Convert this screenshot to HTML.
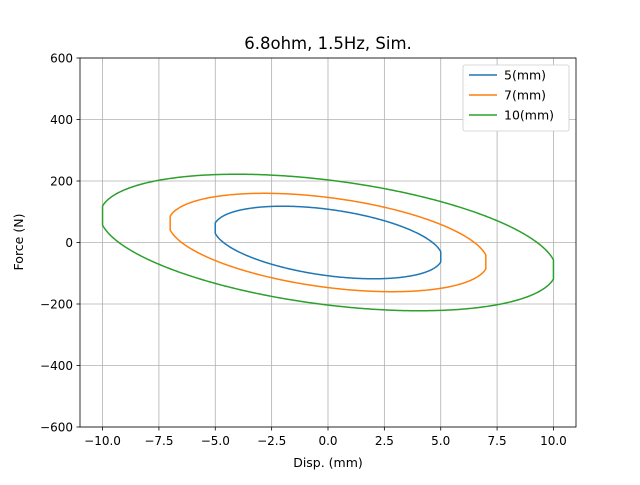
<!DOCTYPE html>
<html><head><meta charset="utf-8"><style>
body{margin:0;background:#fff;font-family:"Liberation Sans","DejaVu Sans",sans-serif}
svg text{font-family:"DejaVu Sans","Liberation Sans",sans-serif}
</style></head><body>
<svg id="c" width="640" height="480" viewBox="0 0 640 480"></svg>
<script>
const amplitudes=[5,7,10];
const peakForces=[118,160,222];
const labels=['5(mm)','7(mm)','10(mm)'];
const colors=['#1f77b4','#ff7f0e','#2ca02c'];
const xTicks=[-10,-7.5,-5,-2.5,0,2.5,5,7.5,10];
const xTickLabels=['\u221210.0','\u22127.5','\u22125.0','\u22122.5','0.0','2.5','5.0','7.5','10.0'];
const yTicks=[-600,-400,-200,0,200,400,600];
const yTickLabels=['\u2212600','\u2212400','\u2212200','0','200','400','600'];
const phase=Math.asin(0.4);
const clipK=1.012;
const L=80,R=576,T=58,B=427;
const X=v=>L+(v+11)/22*(R-L);
const Y=v=>B-(v+600)/1200*(B-T);
const svg=document.getElementById('c');
const NS='http://www.w3.org/2000/svg';
function mk(tag,attrs,parent){const e=document.createElementNS(NS,tag);for(const k in attrs)e.setAttribute(k,attrs[k]);(parent||svg).appendChild(e);return e;}
xTicks.forEach((v,i)=>{
 const g=mk('line',{x1:X(v),x2:X(v),y1:T,y2:B,stroke:'#b0b0b0','stroke-width':0.8});
 
 mk('line',{x1:X(v),x2:X(v),y1:B,y2:B+3.5,stroke:'#000','stroke-width':0.8});
 const t=mk('text',{x:X(v),y:B+18,'text-anchor':'middle','font-size':12});t.textContent=xTickLabels[i];
 
});
yTicks.forEach((v,i)=>{
 const g=mk('line',{x1:L,x2:R,y1:Y(v),y2:Y(v),stroke:'#b0b0b0','stroke-width':0.8});
 
 mk('line',{x1:L-3.5,x2:L,y1:Y(v),y2:Y(v),stroke:'#000','stroke-width':0.8});
 const t=mk('text',{x:L-7,y:Y(v)+4.5,'text-anchor':'end','font-size':12});t.textContent=yTickLabels[i];
 
});
amplitudes.forEach((A,i)=>{
 let pts=[];
 for(let k=0;k<=600;k++){const t=k/600*2*Math.PI;
  let s=clipK*Math.sin(t);s=Math.max(-1,Math.min(1,s));
  const x=A*s,y=peakForces[i]*Math.cos(t+phase);
  pts.push(X(x).toFixed(2)+','+Y(y).toFixed(2));}
 const p=mk('polyline',{points:pts.join(' '),fill:'none',stroke:colors[i],'stroke-width':1.5,'stroke-linejoin':'round'});
 
});
const fr=mk('rect',{x:L,y:T,width:R-L,height:B-T,fill:'none',stroke:'#000','stroke-width':0.8});

const ti=mk('text',{x:(L+R)/2,y:49,'text-anchor':'middle','font-size':16.5});ti.textContent='6.8ohm, 1.5Hz, Sim.';

const xl=mk('text',{x:(L+R)/2,y:467,'text-anchor':'middle','font-size':12.5});xl.textContent='Disp. (mm)';

const yl=mk('text',{x:23,y:242,'text-anchor':'middle','font-size':12.5,transform:'rotate(-90 23 242)'});yl.textContent='Force (N)';

const lg=mk('rect',{x:463,y:65,width:106,height:66,fill:'#fff',stroke:'#ccc','stroke-width':0.8,rx:2});

labels.forEach((s,i)=>{const y=75+i*20;
 const l=mk('line',{x1:469,x2:497,y1:y,y2:y,stroke:colors[i],'stroke-width':1.5});
 
 const t=mk('text',{x:504,y:y+4.5,'font-size':12.5});t.textContent=s;
 
});
</script>
</body></html>
